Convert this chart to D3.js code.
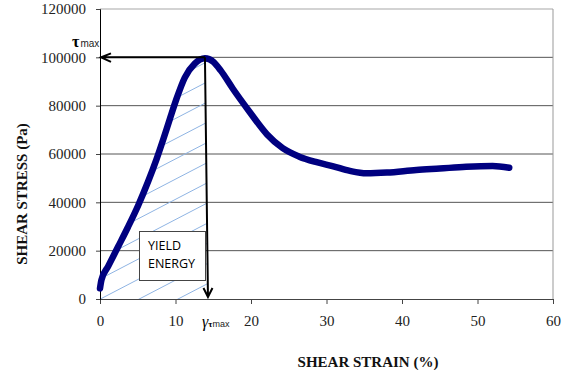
<!DOCTYPE html>
<head>
<meta charset="utf-8">
<style>
body { margin: 0; background: #fff; }
svg { display: block; }
.tick text { font-family: "Liberation Serif", Tinos, "Times New Roman", "DejaVu Serif", serif; font-size: 15px; fill: #222; }
.title { font-family: "Liberation Serif", Tinos, "Times New Roman", "DejaVu Serif", serif; font-size: 15px; font-weight: bold; fill: #111; }
.serif { font-family: "Liberation Serif", Tinos, "Times New Roman", "DejaVu Serif", serif; }
.boxText { font-family: "Open Sans", sans-serif; font-size: 12.5px; fill: #000; }
</style>
</head>
<body>
<svg width="566" height="370"></svg>
<script src="https://d3js.org/d3.v7.min.js"></script>
<script>
// shear strain (%) and shear stress (Pa)
var strain = [0, 0.19, 1.06, 2.39, 3.71, 5.04, 6.36, 7.48, 8.35, 9.24, 10.13, 11.23, 12.55, 13.9,
              15, 16, 17.6, 19.8, 22.1, 24.2, 26.4, 28.7, 30.9, 33.1, 35.3, 38, 41.9, 45, 48.5, 52, 54.2];
var stress = [4400, 7900, 13400, 21600, 29800, 38600, 48500, 57800, 65800, 74400, 82800, 91600, 97400, 99600,
              98200, 94500, 87000, 77500, 68200, 62400, 58900, 56600, 54900, 53000, 52000, 52300, 53400, 54000, 54700, 55000, 54300];
var xTicks = [0, 10, 20, 30, 40, 50, 60];
var yTicks = [0, 20000, 40000, 60000, 80000, 100000, 120000];
var tauMax = 100000, gammaTop = 13.9, gammaBottom = 14.3;

var svg = d3.select("svg"),
    margin = {left: 100, right: 13, top: 9, bottom: 71},
    width = 566 - margin.left - margin.right,
    height = 370 - margin.top - margin.bottom;

var x = d3.scaleLinear().domain([0, 60]).range([margin.left, margin.left + width]);
var y = d3.scaleLinear().domain([0, 120000]).range([margin.top + height, margin.top]);

var data = strain.map(function(s, i) { return [s, stress[i]]; });

// gridlines
svg.append("g").selectAll("line")
    .data(yTicks.slice(1))
  .enter().append("line")
    .attr("x1", x(0)).attr("x2", x(60))
    .attr("y1", function(d) { return y(d); }).attr("y2", function(d) { return y(d); })
    .attr("stroke", function(d) { return d === 120000 ? "#c4c4c4" : "#555"; })
    .attr("stroke-width", function(d) { return d === 120000 ? 1.5 : 1; });
// right border
svg.append("line")
    .attr("x1", x(60)).attr("x2", x(60)).attr("y1", y(120000)).attr("y2", y(0))
    .attr("stroke", "#999");

// hatched yield energy region
var clipPts = data.filter(function(d) { return d[0] <= gammaTop; })
    .map(function(d) { return [x(d[0]), y(d[1])]; });
clipPts.push([x(gammaTop), y(tauMax)]);
clipPts.push([x(gammaBottom), y(0)]);
clipPts.push([x(0), y(0)]);
svg.append("clipPath").attr("id", "hclip")
  .append("path").attr("d", "M" + clipPts.join("L") + "Z");

var hatch = svg.append("g").attr("clip-path", "url(#hclip)");
for (var k = 0; k < 14; k++) {
  var yy = 285 - k * 20.2, xr = 205;
  hatch.append("line")
      .attr("x1", xr - 200).attr("y1", yy + 104)
      .attr("x2", xr + 20).attr("y2", yy - 10.4)
      .attr("stroke", "#8fb4e3").attr("stroke-width", 1);
}

// axes
var xAxis = svg.append("g")
    .attr("transform", "translate(0," + y(0) + ")")
    .call(d3.axisBottom(x).tickValues(xTicks).tickSize(5).tickPadding(11));
xAxis.select(".domain").attr("stroke", "#444");
xAxis.selectAll(".tick line").attr("stroke", "#444");

var yAxis = svg.append("g")
    .attr("transform", "translate(" + x(0) + ",0)")
    .call(d3.axisLeft(y).tickValues(yTicks).tickFormat(d3.format("d")).tickSize(4).tickPadding(10));
yAxis.select(".domain").attr("stroke", "#000");
yAxis.selectAll(".tick line").attr("stroke", "#444");
svg.selectAll(".tick text").attr("font-family", null).attr("font-size", null);

// yield energy box
svg.append("rect")
    .attr("x", 139.5).attr("y", 231.5).attr("width", 66).attr("height", 49)
    .attr("fill", "#fff").attr("stroke", "#444");
svg.append("text").attr("class", "boxText").attr("x", 148).attr("y", 249.5).text("YIELD");
svg.append("text").attr("class", "boxText").attr("x", 148).attr("y", 267.5).text("ENERGY");

// curve
svg.append("path")
    .datum(data)
    .attr("fill", "none")
    .attr("stroke", "#000080")
    .attr("stroke-width", 6.5)
    .attr("stroke-linecap", "round")
    .attr("stroke-linejoin", "round")
    .attr("d", d3.line().x(function(d) { return x(d[0]); }).y(function(d) { return y(d[1]); }).curve(d3.curveMonotoneX));

// arrows
var px = x(gammaTop), py = y(tauMax), lx = x(0) + 1, bx = x(gammaBottom), by = y(0) - 2;
svg.append("path")
    .attr("d", "M" + px + "," + py + "L" + lx + "," + py + "M" + (lx + 10) + "," + (py - 4) + "L" + lx + "," + py + "L" + (lx + 10) + "," + (py + 4.5))
    .attr("fill", "none").attr("stroke", "#000").attr("stroke-width", 2);
svg.append("path")
    .attr("d", "M" + px + "," + py + "L" + bx + "," + by + "M" + (bx - 4.5) + "," + (by - 9) + "L" + bx + "," + by + "L" + (bx + 4.5) + "," + (by - 9))
    .attr("fill", "none").attr("stroke", "#000").attr("stroke-width", 2);

// labels
var tau = svg.append("text").attr("x", 72).attr("y", 47);
tau.append("tspan").attr("class", "serif").attr("font-size", 16).attr("font-weight", "bold").text("τ");
tau.append("tspan").attr("dx", 1).attr("font-family", "Liberation Sans, Arial, sans-serif").attr("font-size", 10).attr("fill", "#222").text("max");

var gam = svg.append("text").attr("x", 202).attr("y", 327);
gam.append("tspan").attr("class", "serif").attr("font-size", 16).attr("font-style", "italic").text("γ");
gam.append("tspan").attr("class", "serif").attr("font-size", 9).attr("font-weight", "bold").text("τ");
gam.append("tspan").attr("font-family", "Liberation Sans, Arial, sans-serif").attr("font-size", 9).attr("fill", "#222").text("max");

svg.append("text").attr("class", "title")
    .attr("x", 368).attr("y", 367).attr("text-anchor", "middle")
    .text("SHEAR STRAIN (%)");
svg.append("text").attr("class", "title")
    .attr("transform", "translate(27,194) rotate(-90)").attr("text-anchor", "middle")
    .text("SHEAR STRESS (Pa)");
</script>
</body>
